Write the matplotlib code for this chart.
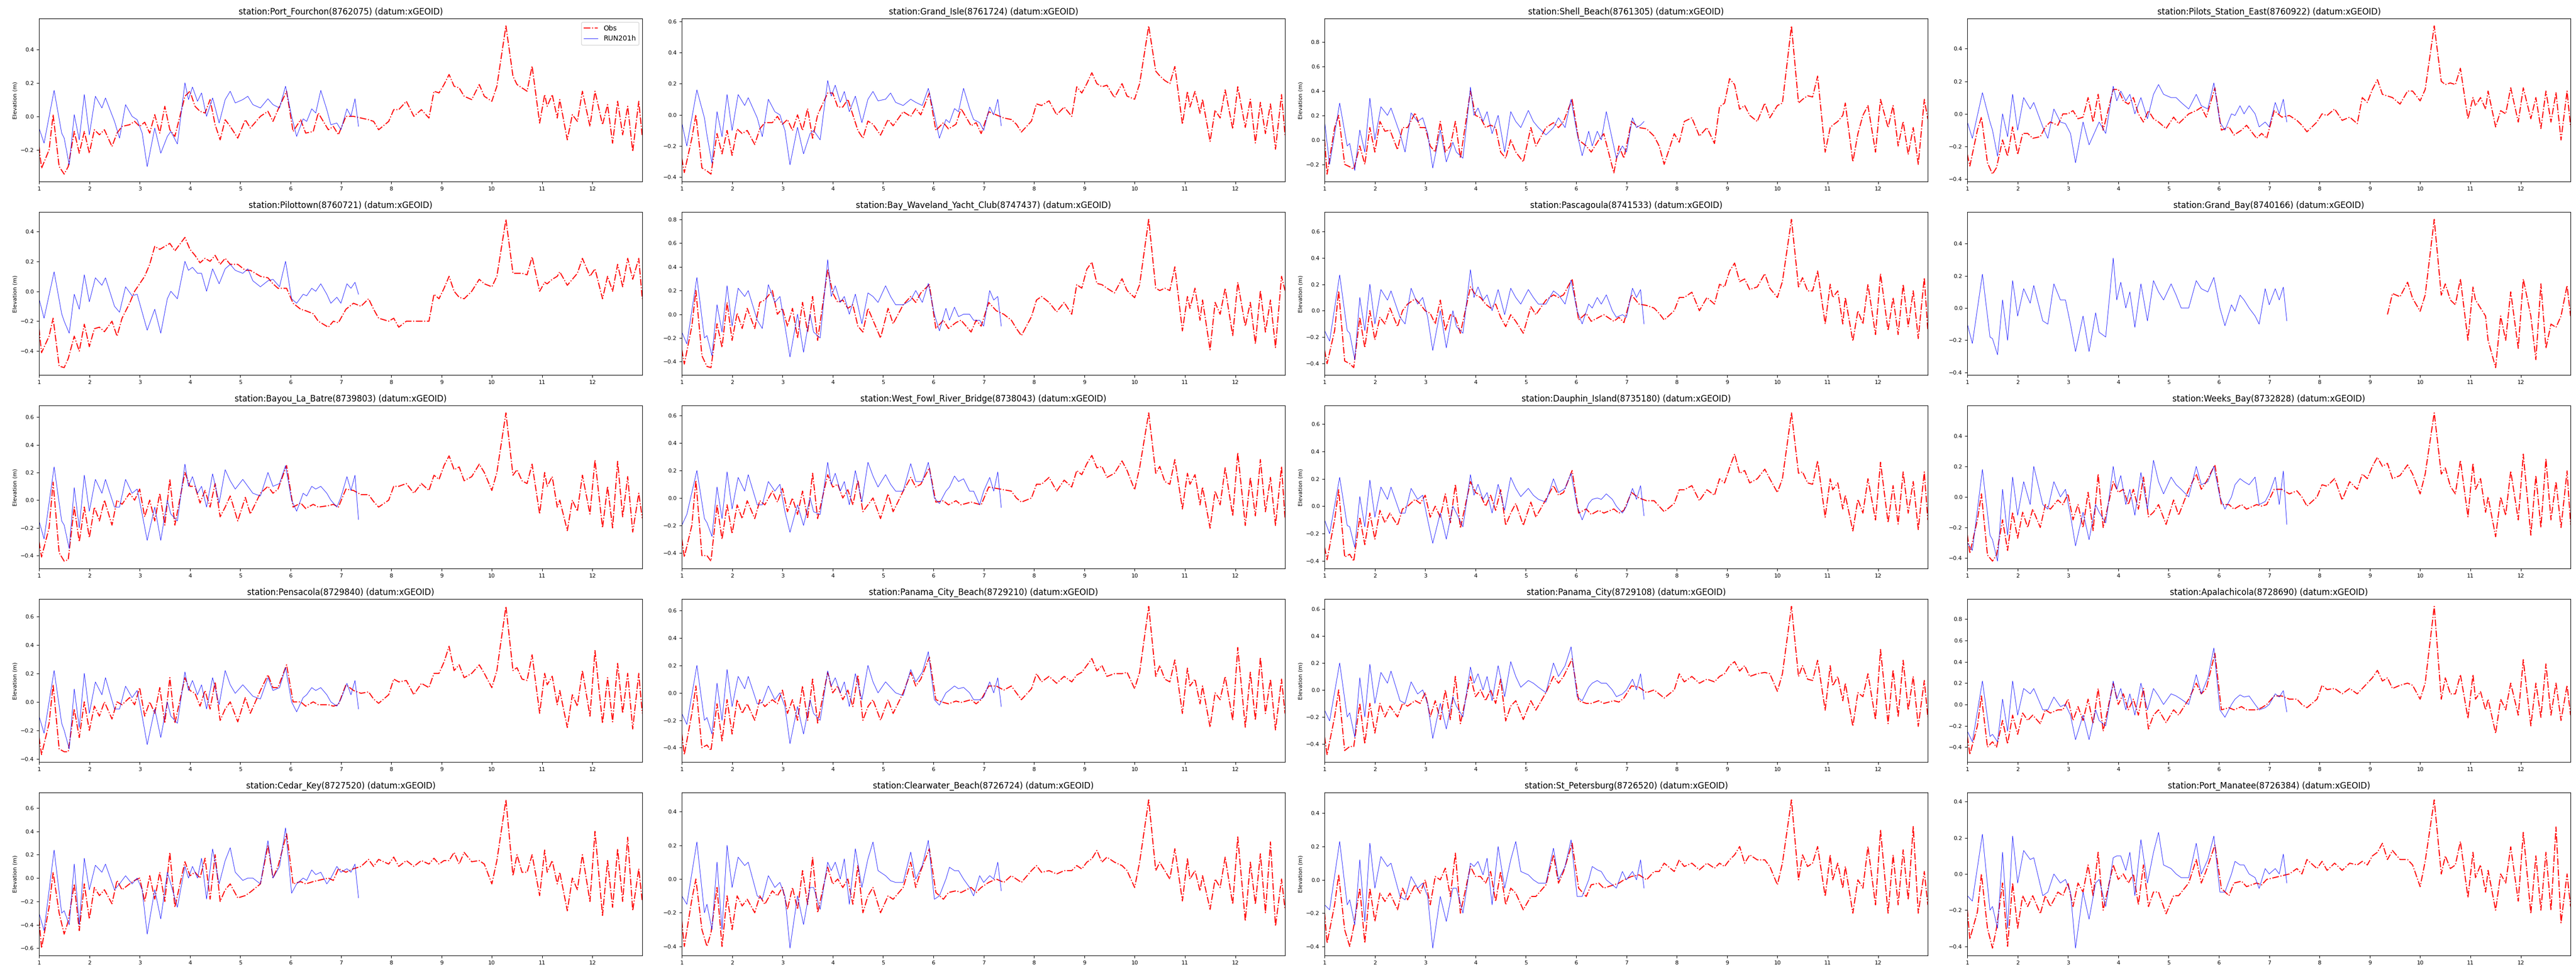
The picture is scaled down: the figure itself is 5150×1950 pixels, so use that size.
import numpy as np
import matplotlib
matplotlib.use('Agg')
import matplotlib.pyplot as plt

nan = np.nan

# station names / ids (row-major order of the 5x4 grid)
stations = ['Port_Fourchon', 'Grand_Isle', 'Shell_Beach', 'Pilots_Station_East',
            'Pilottown', 'Bay_Waveland_Yacht_Club', 'Pascagoula', 'Grand_Bay',
            'Bayou_La_Batre', 'West_Fowl_River_Bridge', 'Dauphin_Island', 'Weeks_Bay',
            'Pensacola', 'Panama_City_Beach', 'Panama_City', 'Apalachicola',
            'Cedar_Key', 'Clearwater_Beach', 'St_Petersburg', 'Port_Manatee']
station_ids = ['8762075', '8761724', '8761305', '8760922',
               '8760721', '8747437', '8741533', '8740166',
               '8739803', '8738043', '8735180', '8732828',
               '8729840', '8729210', '8729108', '8728690',
               '8727520', '8726724', '8726520', '8726384']

# time (day) of observation samples
obs_t = [
    1.0, 1.05, 1.2, 1.28, 1.4, 1.5, 1.58, 1.7, 1.8, 1.9,
    2.0, 2.1, 2.2, 2.3, 2.45, 2.55, 2.65, 2.8, 2.9,
    3.0, 3.1, 3.2, 3.3, 3.4, 3.5, 3.6, 3.7, 3.9,
    4.0, 4.1, 4.2, 4.3, 4.4, 4.5, 4.6, 4.7, 4.8, 4.95,
    5.1, 5.2, 5.4, 5.55, 5.65, 5.75, 5.92,
    6.05, 6.2, 6.3, 6.45, 6.55, 6.75, 6.85, 6.95,
    7.1, 7.25, 7.4, 7.55, 7.65, 7.75, 7.95,
    8.05, 8.15, 8.3, 8.45, 8.6, 8.75, 8.85, 8.95,
    9.05, 9.15, 9.25, 9.35, 9.45, 9.6, 9.75, 9.85,
    10.0, 10.1, 10.28, 10.42, 10.5, 10.6, 10.7, 10.8, 10.95,
    11.05, 11.1, 11.2, 11.3, 11.35, 11.5, 11.6, 11.7, 11.8, 11.95,
    12.05, 12.2, 12.3, 12.4, 12.5, 12.6, 12.7, 12.8, 12.92, 12.99,
]

# time (day) of model samples
mod_t = [
    1.0, 1.1, 1.3, 1.45, 1.5, 1.6, 1.7, 1.8, 1.9,
    2.0, 2.12, 2.25, 2.32, 2.5, 2.6, 2.72, 2.85, 2.95,
    3.05, 3.15, 3.3, 3.42, 3.55, 3.62, 3.75, 3.9, 3.97,
    4.05, 4.15, 4.23, 4.33, 4.45, 4.58, 4.7, 4.8, 4.9,
    5.05, 5.15, 5.25, 5.4, 5.55, 5.65, 5.78, 5.9,
    6.02, 6.12, 6.25, 6.32, 6.42, 6.5, 6.6, 6.72, 6.8, 6.92,
    7.0, 7.12, 7.2, 7.28, 7.35,
]

# ---------------- observations (m) ----------------
obs_port_fourchon = [
    -0.18, -0.31, -0.2, 0.01, -0.3, -0.345, -0.3, -0.09, -0.22, -0.09,
    -0.22, -0.08, -0.11, -0.08, -0.18, -0.1, -0.06, -0.05, -0.03,
    -0.06, -0.035, -0.1, 0.01, -0.1, 0.06, -0.08, -0.12, 0.12,
    0.15, 0.06, 0.03, 0.02, 0.1, -0.05, -0.14, -0.02, -0.06, -0.13,
    -0.02, -0.07, 0.0, 0.03, -0.03, 0.04, 0.15,
    -0.09, -0.02, -0.1, -0.09, 0.02, -0.08, -0.06, -0.11,
    0.0, 0.0, -0.01, -0.02, -0.03, -0.08, -0.03,
    0.04, 0.04, 0.09, 0.0, 0.04, -0.01, 0.15, 0.14,
    0.19, 0.25, 0.18, 0.17, 0.12, 0.1, 0.19, 0.12,
    0.09, 0.18, 0.54, 0.24, 0.19, 0.17, 0.15, 0.3, -0.04,
    0.13, 0.06, 0.13, -0.01, 0.1, -0.14, 0.01, -0.03, 0.15, -0.06,
    0.15, -0.05, 0.07, -0.16, 0.09, -0.11, 0.06, -0.21, 0.09, -0.12,
]
obs_grand_isle = [
    -0.28, -0.37, -0.15, 0.0, -0.34, -0.36, -0.38, -0.12, -0.25, -0.1,
    -0.26, -0.09, -0.12, -0.1, -0.19, -0.09, -0.05, -0.05, -0.01,
    -0.06, -0.03, -0.1, 0.0, -0.1, 0.04, -0.15, 0.0, 0.14,
    0.14, 0.05, 0.05, 0.1, 0.0, -0.1, -0.15, -0.04, -0.06, -0.13,
    -0.03, -0.07, 0.02, -0.01, 0.04, 0.0, 0.14,
    -0.1, -0.05, -0.09, -0.06, 0.04, -0.07, -0.05, -0.12,
    0.02, 0.0, -0.02, -0.03, -0.06, -0.11, -0.04,
    0.07, 0.06, 0.09, 0.0, 0.05, -0.01, 0.18, 0.14,
    0.2, 0.27, 0.2, 0.18, 0.19, 0.11, 0.2, 0.12,
    0.1, 0.2, 0.57, 0.28, 0.25, 0.22, 0.2, 0.31, -0.06,
    0.15, 0.05, 0.15, 0.01, 0.1, -0.17, 0.03, -0.02, 0.16, -0.09,
    0.18, -0.08, 0.1, -0.18, 0.08, -0.12, 0.07, -0.22, 0.13, -0.13,
]
obs_shell_beach = [
    0.0, -0.28, 0.1, 0.2, -0.2, -0.22, -0.24, -0.05, -0.2, 0.1,
    -0.1, 0.15, 0.07, 0.08, -0.08, 0.1, 0.1, 0.22, 0.1,
    0.1, -0.05, -0.1, 0.15, -0.1, -0.05, 0.15, -0.15, 0.4,
    0.2, 0.18, 0.1, 0.12, 0.1, -0.1, -0.15, 0.0, -0.1, -0.18,
    0.1, -0.05, 0.1, 0.14, 0.1, 0.15, 0.33,
    0.0, -0.05, -0.1, 0.0, 0.05, -0.27, -0.05, -0.15,
    0.15, 0.1, 0.09, 0.03, -0.05, -0.2, 0.05,
    -0.02, 0.15, 0.18, 0.03, 0.1, -0.03, 0.27, 0.3,
    0.5, 0.45, 0.25, 0.28, 0.2, 0.15, 0.3, 0.18,
    0.28, 0.3, 0.93, 0.3, 0.33, 0.36, 0.35, 0.52, -0.1,
    0.1, 0.12, 0.15, 0.2, 0.3, -0.18, 0.05, 0.2, 0.28, -0.1,
    0.33, 0.1, 0.28, -0.05, 0.15, -0.12, 0.1, -0.2, 0.33, 0.17,
]
obs_pilots_station_east = [
    -0.25, -0.32, -0.1, -0.02, -0.3, -0.37, -0.33, -0.16, -0.26, -0.08,
    -0.25, -0.12, -0.12, -0.15, -0.14, -0.08, -0.05, -0.07, 0.0,
    0.0, 0.02, -0.03, -0.02, 0.1, -0.05, 0.12, -0.1, 0.15,
    0.15, 0.08, 0.06, 0.1, 0.0, -0.05, 0.02, -0.03, -0.05, -0.09,
    -0.02, -0.06, 0.0, 0.02, 0.04, -0.02, 0.16,
    -0.1, -0.08, -0.13, -0.1, -0.07, -0.15, -0.12, -0.15,
    0.02, -0.02, -0.01, -0.04, -0.07, -0.11, -0.05,
    0.0, -0.01, 0.03, -0.04, -0.02, -0.06, 0.1, 0.07,
    0.15, 0.21, 0.12, 0.11, 0.1, 0.06, 0.14, 0.14,
    0.08, 0.15, 0.54, 0.2, 0.18, 0.19, 0.18, 0.28, -0.03,
    0.1, 0.05, 0.1, 0.03, 0.14, -0.08, 0.02, 0.0, 0.16, -0.05,
    0.16, -0.03, 0.1, -0.09, 0.14, -0.05, 0.13, -0.16, 0.14, -0.08,
]
obs_pilottown = [
    -0.25, -0.41, -0.3, -0.18, -0.5, -0.51, -0.45, -0.3, -0.4, -0.22,
    -0.37, -0.25, -0.24, -0.27, -0.2, -0.3, -0.18, -0.08, 0.0,
    0.05, 0.1, 0.18, 0.3, 0.28, 0.3, 0.32, 0.27, 0.36,
    0.28, 0.24, 0.19, 0.22, 0.2, 0.24, 0.18, 0.22, 0.18, 0.18,
    0.14, 0.14, 0.1, 0.09, 0.05, 0.02, 0.02,
    -0.08, -0.12, -0.13, -0.15, -0.2, -0.24, -0.2, -0.21,
    -0.12, -0.08, -0.1, -0.05, -0.12, -0.18, -0.2,
    -0.18, -0.24, -0.2, -0.2, -0.2, -0.2, -0.02, -0.05,
    0.02, 0.1, 0.0, -0.04, -0.05, 0.0, 0.08, 0.05,
    0.03, 0.1, 0.48, 0.12, 0.12, 0.12, 0.11, 0.23, 0.0,
    0.06, 0.05, 0.08, 0.1, 0.13, 0.04, 0.08, 0.12, 0.22, 0.1,
    0.15, -0.05, 0.1, 0.0, 0.18, 0.03, 0.22, 0.08, 0.22, -0.05,
]
obs_bay_waveland = [
    -0.3, -0.42, -0.1, 0.2, -0.35, -0.44, -0.45, -0.08, -0.28, 0.1,
    -0.22, 0.01, -0.12, 0.05, -0.12, 0.1, 0.12, 0.2, 0.0,
    0.05, -0.1, 0.05, -0.2, 0.1, -0.15, 0.15, -0.22, 0.38,
    0.18, 0.1, 0.12, 0.05, 0.08, -0.1, -0.15, 0.05, -0.05, -0.2,
    0.05, -0.08, 0.08, 0.15, 0.1, 0.18, 0.25,
    -0.12, -0.05, -0.12, -0.07, -0.05, -0.15, -0.05, -0.1,
    0.1, 0.03, 0.0, -0.05, -0.12, -0.18, -0.02,
    0.12, 0.15, 0.1, 0.02, 0.1, 0.0, 0.25, 0.22,
    0.38, 0.44, 0.26, 0.25, 0.22, 0.18, 0.3, 0.2,
    0.14, 0.25, 0.8, 0.22, 0.2, 0.22, 0.2, 0.4, -0.14,
    0.15, 0.05, 0.22, -0.05, 0.12, -0.3, 0.1, 0.0, 0.22, -0.18,
    0.27, -0.1, 0.1, -0.25, 0.2, -0.15, 0.12, -0.28, 0.32, 0.2,
]
obs_pascagoula = [
    -0.3, -0.4, -0.15, 0.15, -0.38, -0.4, -0.43, -0.05, -0.28, 0.0,
    -0.22, -0.05, -0.1, 0.02, -0.12, 0.0, 0.05, 0.09, 0.05,
    0.0, -0.02, -0.1, 0.08, -0.15, -0.03, -0.05, -0.17, 0.18,
    0.12, 0.1, 0.05, 0.02, 0.05, -0.05, -0.12, -0.03, -0.08, -0.17,
    0.03, -0.03, 0.08, 0.12, 0.1, 0.12, 0.24,
    -0.07, -0.02, -0.08, -0.05, -0.03, -0.08, -0.05, -0.09,
    0.12, 0.05, 0.04, 0.02, -0.02, -0.07, 0.0,
    0.1, 0.1, 0.14, 0.0, 0.1, 0.05, 0.2, 0.18,
    0.3, 0.36, 0.22, 0.24, 0.16, 0.18, 0.28, 0.17,
    0.1, 0.22, 0.69, 0.18, 0.25, 0.15, 0.15, 0.3, -0.1,
    0.2, 0.1, 0.15, -0.1, 0.1, -0.23, 0.0, -0.1, 0.2, -0.18,
    0.28, -0.15, 0.1, -0.18, 0.2, -0.12, 0.15, -0.21, 0.25, -0.15,
]
obs_grand_bay = [
    nan, nan, nan, nan, nan, nan, nan, nan, nan, nan,
    nan, nan, nan, nan, nan, nan, nan, nan, nan,
    nan, nan, nan, nan, nan, nan, nan, nan, nan,
    nan, nan, nan, nan, nan, nan, nan, nan, nan, nan,
    nan, nan, nan, nan, nan, nan, nan,
    nan, nan, nan, nan, nan, nan, nan, nan,
    nan, nan, nan, nan, nan, nan, nan,
    nan, nan, nan, nan, nan, nan, nan, nan,
    nan, nan, nan, -0.04, 0.09, 0.07, 0.16, 0.06,
    -0.02, 0.08, 0.55, 0.08, 0.15, 0.05, 0.02, 0.18, -0.2,
    0.13, 0.05, 0.0, -0.05, -0.2, -0.37, -0.05, -0.2, 0.1, -0.25,
    0.18, -0.05, -0.32, 0.15, -0.25, -0.1, -0.12, -0.05, 0.14, -0.05,
]
obs_bayou_la_batre = [
    -0.3, -0.41, -0.2, 0.13, -0.38, -0.44, -0.43, -0.05, -0.3, -0.05,
    -0.27, -0.05, -0.15, 0.0, -0.18, 0.0, -0.03, 0.05, 0.0,
    0.08, -0.12, 0.0, -0.15, 0.05, -0.18, 0.15, -0.18, 0.2,
    0.1, 0.1, -0.02, 0.07, -0.05, 0.12, -0.12, -0.05, 0.03, -0.15,
    0.02, -0.1, 0.05, 0.1, 0.05, 0.08, 0.25,
    -0.05, -0.02, -0.06, -0.03, -0.05, -0.04, -0.03, -0.05,
    0.08, 0.07, 0.04, 0.04, -0.01, -0.05, 0.0,
    0.1, 0.1, 0.12, 0.05, 0.12, 0.07, 0.18, 0.15,
    0.25, 0.32, 0.22, 0.24, 0.14, 0.17, 0.26, 0.2,
    0.07, 0.2, 0.63, 0.18, 0.22, 0.14, 0.12, 0.26, -0.1,
    0.2, 0.1, 0.17, -0.05, 0.0, -0.22, 0.0, -0.08, 0.18, -0.1,
    0.29, -0.2, 0.1, -0.2, 0.28, -0.12, 0.17, -0.23, 0.05, -0.13,
]
obs_west_fowl = [
    -0.3, -0.43, -0.2, 0.13, -0.42, -0.42, -0.46, -0.05, -0.3, -0.05,
    -0.26, -0.05, -0.15, -0.02, -0.15, -0.02, -0.05, 0.05, -0.03,
    0.07, -0.1, 0.0, -0.12, 0.05, -0.15, 0.18, -0.15, 0.17,
    0.08, 0.1, 0.0, 0.06, -0.05, 0.13, -0.1, -0.05, 0.0, -0.15,
    0.03, -0.1, 0.05, 0.15, 0.08, 0.1, 0.22,
    -0.03, -0.02, -0.05, -0.02, -0.05, -0.03, -0.04, -0.05,
    0.08, 0.07, 0.06, 0.05, 0.0, -0.03, 0.0,
    0.1, 0.1, 0.15, 0.05, 0.13, 0.08, 0.2, 0.17,
    0.25, 0.31, 0.22, 0.23, 0.15, 0.18, 0.27, 0.2,
    0.06, 0.22, 0.62, 0.18, 0.23, 0.12, 0.1, 0.28, -0.08,
    0.18, 0.1, 0.17, -0.05, 0.08, -0.22, 0.05, -0.05, 0.22, -0.13,
    0.33, -0.2, 0.15, -0.13, 0.28, -0.1, 0.15, -0.2, 0.23, -0.15,
]
obs_dauphin_island = [
    -0.3, -0.39, -0.1, 0.12, -0.37, -0.35, -0.4, -0.08, -0.28, -0.05,
    -0.24, -0.03, -0.12, -0.05, -0.14, -0.02, 0.0, 0.05, 0.02,
    0.08, -0.08, 0.0, -0.08, 0.09, -0.12, 0.16, -0.16, 0.18,
    0.1, 0.08, 0.0, 0.08, -0.03, 0.12, -0.14, -0.05, 0.02, -0.14,
    0.03, -0.08, 0.05, 0.15, 0.08, 0.1, 0.26,
    -0.05, -0.02, -0.06, -0.03, -0.05, -0.02, -0.05, -0.03,
    0.1, 0.06, 0.04, 0.04, 0.0, -0.04, 0.02,
    0.12, 0.12, 0.15, 0.04, 0.12, 0.08, 0.2, 0.17,
    0.28, 0.38, 0.24, 0.26, 0.17, 0.2, 0.27, 0.2,
    0.1, 0.2, 0.68, 0.24, 0.25, 0.17, 0.16, 0.33, -0.08,
    0.2, 0.12, 0.17, -0.02, 0.08, -0.18, 0.05, -0.05, 0.2, -0.1,
    0.32, -0.12, 0.15, -0.13, 0.25, -0.05, 0.18, -0.17, 0.25, -0.1,
]
obs_weeks_bay = [
    -0.25, -0.37, -0.15, 0.02, -0.38, -0.42, -0.38, -0.15, -0.35, -0.1,
    -0.27, -0.1, -0.2, -0.08, -0.2, -0.05, -0.08, -0.02, -0.05,
    0.02, -0.15, -0.05, -0.2, 0.03, -0.22, 0.15, -0.2, 0.1,
    0.03, 0.05, -0.05, 0.05, -0.08, 0.13, -0.13, -0.1, -0.05, -0.18,
    -0.02, -0.12, 0.05, 0.15, 0.05, 0.1, 0.21,
    -0.05, -0.05, -0.08, -0.05, -0.08, -0.05, -0.06, -0.05,
    0.05, 0.05, 0.02, 0.04, 0.0, -0.06, 0.0,
    0.08, 0.07, 0.12, -0.02, 0.1, 0.05, 0.15, 0.12,
    0.2, 0.26, 0.2, 0.22, 0.12, 0.14, 0.21, 0.15,
    0.02, 0.15, 0.55, 0.15, 0.19, 0.07, 0.02, 0.24, -0.13,
    0.22, 0.05, 0.12, -0.1, 0.0, -0.26, 0.0, -0.12, 0.17, -0.15,
    0.28, -0.25, 0.14, -0.2, 0.25, -0.15, 0.1, -0.2, 0.17, -0.18,
]
obs_pensacola = [
    -0.25, -0.37, -0.15, 0.12, -0.33, -0.35, -0.35, -0.05, -0.25, 0.0,
    -0.2, -0.03, -0.1, 0.0, -0.12, 0.0, -0.02, 0.03, -0.02,
    0.1, -0.1, 0.0, -0.08, 0.1, -0.15, 0.17, -0.15, 0.17,
    0.08, 0.06, -0.03, 0.08, -0.05, 0.14, -0.13, -0.05, 0.0, -0.14,
    0.03, -0.08, 0.08, 0.19, 0.1, 0.1, 0.26,
    0.0, 0.0, -0.03, 0.0, -0.02, -0.02, -0.03, -0.02,
    0.12, 0.08, 0.06, 0.07, 0.02, -0.01, 0.05,
    0.16, 0.14, 0.15, 0.05, 0.13, 0.1, 0.2, 0.2,
    0.28, 0.39, 0.22, 0.26, 0.17, 0.2, 0.26, 0.2,
    0.1, 0.22, 0.67, 0.22, 0.24, 0.16, 0.15, 0.33, -0.08,
    0.2, 0.12, 0.18, -0.02, 0.08, -0.18, 0.05, -0.03, 0.22, -0.1,
    0.36, -0.15, 0.17, -0.14, 0.27, -0.08, 0.2, -0.19, 0.2, -0.08,
]
obs_panama_city_beach = [
    -0.3, -0.45, -0.15, 0.05, -0.4, -0.38, -0.42, -0.08, -0.35, -0.05,
    -0.3, -0.05, -0.15, -0.08, -0.2, -0.05, -0.1, -0.05, -0.08,
    0.02, -0.15, -0.05, -0.2, 0.05, -0.2, 0.1, -0.22, 0.15,
    0.0, 0.05, -0.05, 0.02, -0.1, 0.13, -0.2, -0.1, -0.05, -0.2,
    -0.05, -0.15, 0.0, 0.15, 0.05, 0.1, 0.26,
    -0.05, -0.07, -0.08, -0.06, -0.07, -0.05, -0.08, -0.05,
    0.05, 0.05, 0.02, 0.05, 0.0, -0.05, 0.03,
    0.14, 0.08, 0.12, 0.07, 0.12, 0.08, 0.13, 0.15,
    0.2, 0.25, 0.16, 0.2, 0.12, 0.14, 0.14, 0.15,
    0.03, 0.15, 0.63, 0.12, 0.2, 0.1, 0.08, 0.24, -0.15,
    0.18, 0.05, 0.1, -0.08, 0.05, -0.25, 0.0, -0.05, 0.12, -0.2,
    0.33, -0.25, 0.15, -0.2, 0.26, -0.15, 0.1, -0.27, 0.1, -0.15,
]
obs_panama_city = [
    -0.35, -0.48, -0.2, 0.0, -0.45, -0.42, -0.42, -0.1, -0.4, -0.1,
    -0.32, -0.1, -0.2, -0.12, -0.2, -0.1, -0.12, -0.08, -0.1,
    -0.02, -0.2, -0.08, -0.22, 0.0, -0.22, 0.1, -0.25, 0.1,
    -0.05, 0.0, -0.08, 0.0, -0.1, 0.08, -0.23, -0.12, -0.08, -0.22,
    -0.08, -0.15, -0.02, 0.1, 0.05, 0.1, 0.23,
    -0.08, -0.1, -0.1, -0.08, -0.1, -0.08, -0.09, -0.06,
    0.03, 0.02, -0.02, 0.0, -0.03, -0.06, 0.0,
    0.12, 0.06, 0.1, 0.05, 0.08, 0.06, 0.1, 0.12,
    0.18, 0.21, 0.14, 0.18, 0.1, 0.12, 0.13, 0.12,
    -0.01, 0.12, 0.62, 0.1, 0.18, 0.08, 0.07, 0.22, -0.15,
    0.18, 0.03, 0.1, -0.08, 0.05, -0.27, -0.02, -0.05, 0.12, -0.22,
    0.3, -0.25, 0.15, -0.2, 0.22, -0.15, 0.1, -0.27, 0.07, -0.2,
]
obs_apalachicola = [
    -0.3, -0.47, -0.2, 0.08, -0.4, -0.35, -0.4, -0.15, -0.37, -0.1,
    -0.28, -0.08, -0.15, -0.1, -0.18, -0.05, -0.08, -0.05, -0.05,
    0.05, -0.15, -0.02, -0.15, 0.05, -0.18, 0.15, -0.25, 0.2,
    0.0, 0.1, -0.05, 0.05, -0.1, 0.15, -0.23, -0.1, -0.05, -0.17,
    -0.05, -0.1, 0.05, 0.2, 0.1, 0.15, 0.48,
    -0.05, -0.03, -0.05, -0.02, -0.05, -0.05, -0.03, 0.0,
    0.08, 0.08, 0.05, 0.05, 0.0, -0.03, 0.05,
    0.18, 0.14, 0.15, 0.1, 0.15, 0.1, 0.15, 0.2,
    0.25, 0.32, 0.22, 0.25, 0.15, 0.18, 0.2, 0.18,
    0.05, 0.2, 0.92, 0.05, 0.25, 0.1, 0.1, 0.28, -0.13,
    0.28, 0.05, 0.12, -0.05, 0.05, -0.27, 0.05, -0.05, 0.2, -0.1,
    0.42, -0.2, 0.2, -0.12, 0.38, -0.1, 0.2, -0.15, 0.18, -0.1,
]
obs_cedar_key = [
    -0.35, -0.6, -0.25, 0.05, -0.3, -0.48, -0.37, -0.05, -0.45, -0.05,
    -0.35, -0.08, -0.15, -0.1, -0.22, -0.02, -0.1, -0.05, -0.02,
    0.0, -0.2, 0.02, -0.18, 0.05, -0.2, 0.22, -0.25, 0.14,
    0.02, 0.05, 0.0, 0.17, -0.18, 0.2, -0.2, -0.1, -0.05, -0.17,
    -0.15, -0.12, -0.05, 0.28, 0.0, 0.1, 0.38,
    -0.05, -0.03, -0.05, -0.03, -0.02, 0.0, -0.02, 0.08,
    0.05, 0.08, 0.1, 0.16, 0.1, 0.16, 0.12,
    0.18, 0.1, 0.15, 0.1, 0.15, 0.12, 0.17, 0.12,
    0.15, 0.15, 0.22, 0.12, 0.22, 0.14, 0.15, 0.12,
    -0.05, 0.15, 0.67, 0.02, 0.2, 0.05, 0.05, 0.2, -0.15,
    0.24, 0.05, 0.15, -0.05, 0.05, -0.28, 0.0, -0.1, 0.2, -0.2,
    0.4, -0.32, 0.15, -0.25, 0.25, -0.2, 0.35, -0.28, 0.08, -0.2,
]
obs_clearwater_beach = [
    -0.25, -0.4, -0.12, 0.0, -0.3, -0.4, -0.32, -0.05, -0.4, -0.1,
    -0.3, -0.1, -0.16, -0.12, -0.2, -0.1, -0.15, -0.07, -0.1,
    -0.05, -0.18, -0.05, -0.18, 0.05, -0.15, 0.13, -0.2, 0.07,
    -0.03, 0.0, -0.05, 0.0, -0.15, 0.08, -0.2, -0.1, -0.05, -0.2,
    -0.1, -0.12, -0.05, 0.1, -0.05, 0.05, 0.18,
    -0.08, -0.12, -0.08, -0.07, -0.08, -0.05, -0.08, -0.05,
    -0.02, 0.0, -0.02, 0.02, 0.0, -0.02, 0.05,
    0.08, 0.04, 0.05, 0.03, 0.05, 0.05, 0.08, 0.06,
    0.1, 0.12, 0.17, 0.1, 0.13, 0.1, 0.08, 0.05,
    -0.05, 0.1, 0.47, 0.05, 0.1, 0.05, 0.0, 0.18, -0.13,
    0.12, 0.0, 0.05, -0.07, 0.02, -0.18, 0.0, -0.05, 0.13, -0.15,
    0.25, -0.25, 0.1, -0.15, 0.15, -0.2, 0.22, -0.28, 0.0, -0.18,
]
obs_st_petersburg = [
    -0.2, -0.38, -0.15, 0.03, -0.3, -0.4, -0.28, -0.05, -0.38, -0.05,
    -0.25, -0.08, -0.13, -0.08, -0.18, -0.05, -0.12, -0.03, -0.08,
    0.0, -0.15, 0.02, 0.0, 0.07, -0.1, 0.16, -0.2, 0.08,
    0.02, 0.02, -0.02, 0.05, -0.13, 0.05, -0.15, -0.05, -0.08, -0.18,
    -0.1, -0.1, -0.03, 0.15, -0.02, 0.05, 0.22,
    -0.05, -0.1, -0.03, -0.02, -0.05, -0.03, -0.02, 0.0,
    0.02, 0.03, 0.0, 0.05, 0.05, 0.1, 0.05,
    0.12, 0.08, 0.1, 0.06, 0.1, 0.07, 0.1, 0.08,
    0.12, 0.15, 0.2, 0.1, 0.15, 0.12, 0.12, 0.08,
    -0.03, 0.1, 0.48, 0.0, 0.15, 0.08, 0.1, 0.2, -0.1,
    0.15, 0.0, 0.1, -0.05, 0.08, -0.2, 0.0, -0.05, 0.2, -0.15,
    0.3, -0.2, 0.15, -0.15, 0.18, -0.12, 0.32, -0.2, 0.05, -0.15,
]
obs_port_manatee = [
    -0.2, -0.36, -0.21, 0.0, -0.3, -0.41, -0.3, -0.05, -0.4, -0.05,
    -0.3, -0.12, -0.18, -0.12, -0.22, -0.12, -0.18, -0.1, -0.12,
    -0.05, -0.18, -0.05, -0.1, 0.05, -0.12, 0.12, -0.2, 0.05,
    -0.03, 0.0, -0.05, 0.0, -0.17, 0.05, -0.18, -0.1, -0.1, -0.22,
    -0.12, -0.12, -0.05, 0.08, -0.05, 0.02, 0.16,
    -0.08, -0.12, -0.05, -0.04, -0.07, -0.05, -0.06, -0.03,
    -0.02, -0.01, 0.0, 0.03, 0.0, 0.08, 0.03,
    0.07, 0.02, 0.06, 0.02, 0.06, 0.05, 0.07, 0.05,
    0.1, 0.12, 0.17, 0.08, 0.13, 0.08, 0.08, 0.05,
    -0.07, 0.07, 0.41, 0.0, 0.1, 0.03, 0.05, 0.18, -0.13,
    0.12, -0.02, 0.05, -0.1, 0.02, -0.2, 0.0, -0.05, 0.15, -0.15,
    0.23, -0.22, 0.1, -0.2, 0.12, -0.2, 0.26, -0.27, 0.0, -0.18,
]

# ---------------- model RUN201h (m) ----------------
mod_port_fourchon = [
    -0.07, -0.16, 0.155, -0.1, -0.13, -0.29, 0.01, -0.14, 0.13,
    -0.11, 0.12, 0.05, 0.11, -0.03, -0.13, 0.07, 0.0, -0.02,
    -0.1, -0.3, -0.07, -0.22, -0.12, -0.09, -0.165, 0.2, 0.1,
    0.175, 0.09, 0.14, 0.0, 0.11, -0.04, 0.1, 0.15, 0.08,
    0.1, 0.12, 0.07, 0.05, 0.105, 0.07, 0.05, 0.18,
    0.0, -0.12, -0.015, -0.03, 0.045, 0.02, 0.155, 0.04, -0.05, -0.04,
    -0.08, 0.045, 0.0, 0.105, -0.06,
]
mod_grand_isle = [
    -0.05, -0.2, 0.16, -0.02, -0.13, -0.31, 0.02, -0.14, 0.13,
    -0.1, 0.13, 0.06, 0.11, -0.02, -0.14, 0.1, 0.02, 0.0,
    -0.1, -0.32, -0.08, -0.25, -0.12, -0.1, -0.16, 0.22, 0.12,
    0.19, 0.08, 0.15, 0.02, 0.12, -0.05, 0.1, 0.15, 0.09,
    0.1, 0.14, 0.08, 0.06, 0.1, 0.08, 0.06, 0.17,
    0.0, -0.15, -0.03, -0.05, 0.04, 0.02, 0.17, 0.04, -0.03, -0.05,
    -0.1, 0.05, 0.0, 0.1, -0.07,
]
mod_shell_beach = [
    0.15, -0.2, 0.3, -0.05, -0.03, -0.25, 0.08, -0.1, 0.34,
    0.0, 0.27, 0.2, 0.26, 0.05, -0.1, 0.22, 0.15, 0.18,
    0.05, -0.23, 0.08, -0.18, -0.02, -0.1, -0.15, 0.43, 0.2,
    0.26, 0.15, 0.23, 0.05, 0.2, -0.1, 0.23, 0.15, 0.1,
    0.24, 0.15, 0.1, 0.04, 0.1, 0.18, 0.1, 0.33,
    0.05, -0.13, 0.07, -0.05, 0.07, 0.0, 0.23, 0.0, -0.15, -0.05,
    -0.1, 0.18, 0.1, 0.12, 0.15,
]
mod_pilots_station_east = [
    -0.05, -0.15, 0.13, -0.05, -0.1, -0.26, 0.0, -0.14, 0.12,
    -0.1, 0.1, 0.03, 0.07, -0.08, -0.15, 0.03, -0.05, -0.06,
    -0.12, -0.3, -0.05, -0.19, -0.1, -0.05, -0.12, 0.17, 0.08,
    0.14, 0.08, 0.12, 0.0, 0.1, -0.03, 0.12, 0.18, 0.12,
    0.1, 0.1, 0.07, 0.03, 0.12, 0.05, 0.03, 0.19,
    -0.05, -0.1, 0.0, -0.01, 0.05, 0.0, 0.05, 0.0, -0.08, -0.05,
    -0.08, 0.07, 0.0, 0.09, -0.05,
]
mod_pilottown = [
    -0.05, -0.18, 0.13, -0.15, -0.2, -0.28, -0.02, -0.12, 0.11,
    -0.07, 0.09, 0.04, 0.09, -0.1, -0.14, 0.03, -0.03, -0.02,
    -0.14, -0.26, -0.12, -0.28, -0.05, 0.0, -0.05, 0.2, 0.14,
    0.16, 0.12, 0.12, 0.0, 0.15, 0.05, 0.15, 0.18, 0.14,
    0.12, 0.15, 0.07, 0.03, 0.07, 0.08, 0.03, 0.2,
    -0.05, -0.08, -0.02, -0.03, 0.02, 0.0, 0.05, -0.02, -0.08, -0.04,
    -0.08, 0.05, 0.02, 0.06, -0.02,
]
mod_bay_waveland = [
    -0.15, -0.25, 0.31, -0.2, -0.18, -0.35, 0.08, -0.15, 0.24,
    -0.1, 0.22, 0.15, 0.2, -0.05, -0.12, 0.25, 0.1, 0.15,
    -0.1, -0.36, 0.0, -0.32, 0.0, -0.15, -0.2, 0.46, 0.15,
    0.24, 0.1, 0.15, 0.0, 0.17, -0.08, 0.18, 0.15, 0.1,
    0.24, 0.15, 0.08, 0.08, 0.12, 0.2, 0.1, 0.26,
    0.0, -0.14, 0.05, -0.05, 0.06, -0.02, 0.0, 0.0, -0.05, -0.05,
    -0.1, 0.2, 0.12, 0.15, -0.1,
]
mod_pascagoula = [
    -0.15, -0.23, 0.27, -0.15, -0.17, -0.37, 0.1, -0.15, 0.2,
    -0.1, 0.16, 0.08, 0.15, -0.05, -0.1, 0.17, 0.05, 0.1,
    -0.05, -0.3, 0.0, -0.28, 0.0, -0.12, -0.17, 0.31, 0.1,
    0.18, 0.08, 0.12, 0.0, 0.16, -0.03, 0.17, 0.1, 0.05,
    0.16, 0.1, 0.05, 0.05, 0.15, 0.12, 0.05, 0.23,
    0.0, -0.1, 0.05, 0.02, 0.1, 0.05, 0.12, 0.0, -0.05, -0.03,
    -0.05, 0.17, 0.1, 0.16, -0.1,
]
mod_grand_bay = [
    -0.1, -0.22, 0.21, -0.18, -0.19, -0.29, 0.05, -0.2, 0.17,
    -0.05, 0.12, 0.03, 0.14, -0.08, -0.1, 0.15, 0.05, 0.05,
    -0.1, -0.27, -0.05, -0.27, -0.03, -0.15, -0.18, 0.31, 0.05,
    0.16, 0.0, 0.1, -0.12, 0.15, -0.08, 0.17, 0.1, 0.05,
    0.15, 0.08, 0.0, 0.0, 0.17, 0.12, 0.1, 0.19,
    0.0, -0.11, 0.02, -0.02, 0.08, 0.05, 0.0, -0.05, -0.1, 0.12,
    0.02, 0.12, 0.05, 0.13, -0.08,
]
mod_bayou_la_batre = [
    -0.15, -0.28, 0.24, -0.15, -0.18, -0.35, 0.09, -0.2, 0.18,
    -0.08, 0.15, 0.05, 0.15, -0.05, -0.05, 0.15, 0.05, 0.08,
    -0.1, -0.29, -0.05, -0.29, 0.0, -0.1, -0.15, 0.26, 0.1,
    0.17, 0.05, 0.1, -0.05, 0.19, -0.02, 0.22, 0.14, 0.08,
    0.15, 0.1, 0.05, 0.03, 0.2, 0.1, 0.12, 0.25,
    0.0, -0.08, 0.05, 0.03, 0.1, 0.08, 0.1, 0.05, 0.0, -0.05,
    0.02, 0.17, 0.07, 0.18, -0.14,
]
mod_west_fowl = [
    -0.2, -0.12, 0.2, -0.15, -0.18, -0.28, 0.08, -0.15, 0.19,
    -0.08, 0.15, 0.05, 0.17, -0.05, -0.05, 0.12, 0.05, 0.1,
    -0.1, -0.25, -0.05, -0.2, 0.0, -0.1, -0.12, 0.26, 0.1,
    0.18, 0.05, 0.12, -0.05, 0.2, -0.03, 0.26, 0.16, 0.08,
    0.17, 0.1, 0.05, 0.05, 0.25, 0.12, 0.12, 0.26,
    0.0, -0.04, 0.05, 0.08, 0.16, 0.12, 0.14, 0.05, 0.05, -0.05,
    0.05, 0.15, 0.05, 0.19, -0.07,
]
mod_dauphin_island = [
    -0.1, -0.2, 0.21, -0.14, -0.15, -0.3, 0.07, -0.15, 0.19,
    -0.08, 0.14, 0.05, 0.14, -0.05, -0.05, 0.13, 0.05, 0.08,
    -0.1, -0.27, -0.05, -0.24, 0.0, -0.05, -0.15, 0.23, 0.08,
    0.16, 0.05, 0.1, -0.05, 0.16, -0.03, 0.21, 0.13, 0.07,
    0.13, 0.08, 0.05, 0.03, 0.2, 0.1, 0.13, 0.24,
    0.0, -0.1, 0.02, 0.05, 0.06, 0.05, 0.09, 0.05, 0.0, -0.05,
    0.0, 0.13, 0.05, 0.15, -0.07,
]
mod_weeks_bay = [
    -0.3, -0.35, 0.18, -0.25, -0.28, -0.42, 0.05, -0.25, 0.13,
    -0.12, 0.1, -0.05, 0.2, -0.05, -0.08, 0.1, 0.0, 0.05,
    -0.12, -0.32, -0.1, -0.28, -0.05, -0.1, -0.17, 0.2, 0.05,
    0.14, -0.05, 0.05, -0.12, 0.16, -0.08, 0.24, 0.1, 0.02,
    0.13, 0.08, 0.05, 0.0, 0.2, 0.08, 0.1, 0.2,
    0.0, -0.08, 0.0, 0.08, 0.12, 0.1, 0.08, 0.13, -0.05, -0.03,
    0.02, 0.13, -0.05, 0.17, -0.18,
]
mod_pensacola = [
    -0.1, -0.22, 0.22, -0.15, -0.2, -0.33, 0.09, -0.18, 0.2,
    -0.08, 0.14, 0.05, 0.17, -0.05, -0.05, 0.11, 0.03, 0.08,
    -0.1, -0.3, -0.05, -0.25, 0.0, -0.1, -0.15, 0.21, 0.08,
    0.15, 0.05, 0.12, -0.05, 0.17, -0.02, 0.22, 0.12, 0.06,
    0.12, 0.08, 0.04, 0.02, 0.17, 0.08, 0.1, 0.24,
    0.0, -0.07, 0.03, 0.05, 0.1, 0.08, 0.1, 0.05, 0.0, -0.03,
    0.02, 0.13, 0.05, 0.15, -0.05,
]
mod_panama_city_beach = [
    -0.15, -0.23, 0.2, -0.2, -0.18, -0.3, 0.07, -0.2, 0.17,
    -0.1, 0.12, 0.03, 0.12, -0.08, -0.07, 0.05, -0.05, 0.0,
    -0.1, -0.37, -0.1, -0.3, -0.05, -0.15, -0.2, 0.16, 0.05,
    0.11, 0.0, 0.08, -0.1, 0.14, -0.05, 0.2, 0.08, 0.0,
    0.08, 0.04, 0.0, -0.02, 0.17, 0.08, 0.15, 0.3,
    -0.05, -0.09, 0.0, 0.02, 0.05, 0.03, 0.04, 0.0, -0.05, -0.05,
    -0.03, 0.08, 0.0, 0.11, -0.1,
]
mod_panama_city = [
    -0.15, -0.23, 0.2, -0.2, -0.17, -0.35, 0.09, -0.2, 0.19,
    -0.1, 0.13, 0.05, 0.14, -0.08, -0.1, 0.06, -0.03, 0.0,
    -0.1, -0.36, -0.1, -0.29, -0.05, -0.12, -0.2, 0.17, 0.05,
    0.12, 0.0, 0.1, -0.08, 0.18, -0.05, 0.21, 0.1, 0.02,
    0.07, 0.05, 0.02, -0.02, 0.2, 0.1, 0.18, 0.32,
    -0.05, -0.08, 0.02, 0.05, 0.07, 0.05, 0.05, 0.0, -0.05, -0.03,
    0.0, 0.08, 0.0, 0.12, -0.07,
]
mod_apalachicola = [
    -0.25, -0.35, 0.22, -0.3, -0.28, -0.35, 0.05, -0.25, 0.22,
    -0.1, 0.15, 0.1, 0.15, -0.05, -0.05, 0.07, -0.02, 0.0,
    -0.1, -0.33, -0.1, -0.33, -0.05, -0.15, -0.2, 0.22, 0.05,
    0.15, -0.05, 0.1, -0.1, 0.2, -0.05, 0.15, 0.08, 0.0,
    0.1, 0.08, 0.05, 0.0, 0.28, 0.1, 0.25, 0.53,
    -0.05, -0.12, 0.0, 0.05, 0.09, 0.07, 0.08, 0.0, -0.05, -0.03,
    0.0, 0.1, 0.07, 0.13, -0.07,
]
mod_cedar_key = [
    -0.3, -0.45, 0.24, -0.3, -0.28, -0.4, 0.12, -0.4, 0.17,
    -0.1, 0.11, 0.05, 0.12, -0.1, -0.05, 0.02, -0.05, 0.0,
    -0.1, -0.48, -0.1, -0.35, 0.05, -0.05, -0.25, 0.1, 0.0,
    0.1, 0.0, 0.17, -0.18, 0.25, -0.05, 0.15, 0.26, 0.05,
    -0.02, 0.0, 0.0, -0.05, 0.32, 0.0, 0.1, 0.43,
    -0.13, -0.05, 0.0, -0.02, 0.07, 0.03, 0.05, -0.05, 0.0, 0.1,
    0.05, 0.08, 0.05, 0.12, -0.17,
]
mod_clearwater_beach = [
    -0.1, -0.15, 0.22, -0.2, -0.15, -0.3, 0.1, -0.3, 0.2,
    -0.05, 0.13, 0.08, 0.1, -0.1, -0.12, 0.02, -0.05, -0.02,
    -0.1, -0.41, -0.1, -0.27, -0.05, -0.05, -0.18, 0.1, 0.05,
    0.1, 0.0, 0.12, -0.15, 0.18, -0.05, 0.12, 0.22, 0.05,
    0.02, -0.01, -0.02, -0.02, 0.16, 0.0, 0.08, 0.23,
    -0.12, -0.1, 0.0, 0.07, 0.05, 0.05, 0.0, -0.05, -0.1, 0.02,
    -0.02, 0.02, 0.0, 0.1, -0.07,
]
mod_st_petersburg = [
    -0.15, -0.18, 0.23, -0.15, -0.12, -0.27, 0.12, -0.25, 0.22,
    -0.05, 0.14, 0.08, 0.1, -0.1, -0.12, 0.02, -0.05, -0.02,
    -0.1, -0.41, -0.1, -0.25, -0.05, -0.05, -0.2, 0.1, 0.08,
    0.11, 0.03, 0.13, -0.15, 0.2, -0.05, 0.12, 0.23, 0.05,
    0.03, 0.0, -0.02, -0.02, 0.19, 0.0, 0.08, 0.24,
    -0.1, -0.1, 0.0, 0.08, 0.06, 0.05, 0.0, -0.03, -0.05, 0.05,
    0.0, 0.05, 0.0, 0.12, -0.05,
]
mod_port_manatee = [
    -0.12, -0.15, 0.22, -0.2, -0.18, -0.3, 0.12, -0.3, 0.21,
    -0.05, 0.13, 0.08, 0.09, -0.12, -0.1, 0.0, -0.05, -0.03,
    -0.1, -0.41, -0.1, -0.25, -0.05, -0.03, -0.18, 0.09, 0.1,
    0.1, 0.02, 0.12, -0.12, 0.19, -0.05, 0.12, 0.23, 0.05,
    0.03, 0.0, -0.02, -0.02, 0.17, 0.0, 0.08, 0.21,
    -0.1, -0.1, 0.0, 0.07, 0.05, 0.05, 0.0, -0.02, -0.08, 0.03,
    0.0, 0.03, 0.0, 0.11, -0.05,
]

obs_all = [obs_port_fourchon, obs_grand_isle, obs_shell_beach, obs_pilots_station_east,
           obs_pilottown, obs_bay_waveland, obs_pascagoula, obs_grand_bay,
           obs_bayou_la_batre, obs_west_fowl, obs_dauphin_island, obs_weeks_bay,
           obs_pensacola, obs_panama_city_beach, obs_panama_city, obs_apalachicola,
           obs_cedar_key, obs_clearwater_beach, obs_st_petersburg, obs_port_manatee]
mod_all = [mod_port_fourchon, mod_grand_isle, mod_shell_beach, mod_pilots_station_east,
           mod_pilottown, mod_bay_waveland, mod_pascagoula, mod_grand_bay,
           mod_bayou_la_batre, mod_west_fowl, mod_dauphin_island, mod_weeks_bay,
           mod_pensacola, mod_panama_city_beach, mod_panama_city, mod_apalachicola,
           mod_cedar_key, mod_clearwater_beach, mod_st_petersburg, mod_port_manatee]

fig, axes = plt.subplots(5, 4, figsize=(51.5, 19.5), dpi=100)
fig.subplots_adjust(left=0.01515, right=0.9979, bottom=0.02, top=0.981,
                    wspace=0.0655, hspace=0.187)

for i, ax in enumerate(axes.flat):
    obs = obs_all[i]
    mod = mod_all[i]
    assert len(obs) == len(obs_t), (stations[i], 'obs', len(obs))
    assert len(mod) == len(mod_t), (stations[i], 'mod', len(mod))
    ax.plot(obs_t, obs, color='r', linestyle='-.', linewidth=1.5, label='Obs')
    ax.plot(mod_t, mod, color='b', linewidth=0.6, label='RUN201h')
    ax.set_title('station:%s(%s) (datum:xGEOID)' % (stations[i], station_ids[i]), fontsize=12)
    ax.set_xlim(1, 12.99)
    ax.set_xticks(range(1, 13))
    ax.tick_params(labelsize=8)
    if i % 2 == 0:
        ax.set_ylabel('Elevation (m)', fontsize=8)
    if i == 0:
        ax.legend(loc='upper right', fontsize=10)

plt.savefig('out.png')
